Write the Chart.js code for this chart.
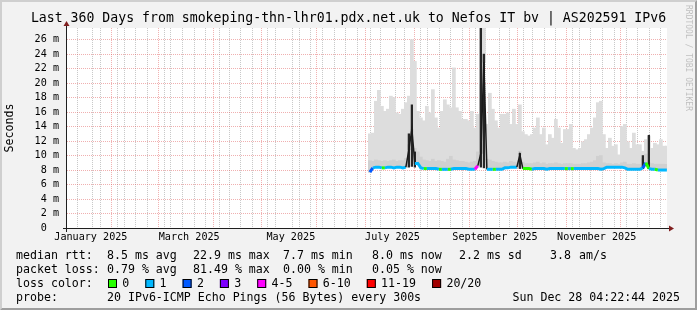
<!DOCTYPE html>
<html>
<head>
<meta charset="utf-8">
<script src="https://cdn.jsdelivr.net/npm/chart.js"></script>
<style>
  html, body { margin: 0; padding: 0; background: #f2f2f2; }
</style>
</head>
<body>
<canvas id="rttChart" width="697" height="310"></canvas>
<script>
// days since 1 Jan 2025; the export holds one sample every 1.8 days
var sampleStart = 182.9;
var sampleStep = 1.8;
var viewEnd = 361.18;   // Sun Dec 28 04:22:44
var viewDays = 360;
var yTop = 27.6;        // ms

// median rtt (ms)
var medianRtt = [
  7.7, 8.3, 8.4, 8.4, 8.3, 8.3, 8.4, 8.4, 8.3, 8.4,
  8.4, 8.3, 8.4, 10.8, 13.6, 8.9, 8.9, 8.3, 8.2, 8.2,
  8.2, 8.2, 8.2, 8.1, 8.1, 8.1, 8.1, 8.1, 8.2, 8.2,
  8.2, 8.2, 8.2, 8.1, 8.1, 8.1, 8.6, 10.3, 22.9, 8.1,
  8.1, 8.1, 8.1, 8.1, 8.1, 8.3, 8.3, 8.4, 8.4, 8.4,
  10.1, 8.2, 8.2, 8.2, 8.1, 8.2, 8.2, 8.2, 8.2, 8.1,
  8.2, 8.2, 8.2, 8.2, 8.2, 8.2, 8.2, 8.2, 8.2, 8.2,
  8.2, 8.2, 8.2, 8.2, 8.2, 8.2, 8.2, 8.1, 8.2, 8.4,
  8.4, 8.4, 8.4, 8.4, 8.4, 8.3, 8.1, 8.1, 8.1, 8.1,
  8.1, 8.3, 9.0, 8.2, 8.1, 8.1, 8.0, 8.0, 8.0, 8.0
];

// loss colour class per sample (index into lossColors)
var lossClass = [
  2, 2, 1, 1, 1, 0, 1, 1, 1, 1,
  1, 1, 1, 1, 1, 1, 1, 1, 1, 0,
  1, 1, 1, 1, 0, 1, 1, 0, 1, 1,
  1, 1, 1, 1, 1, 1, 4, 6, 2, 1,
  1, 1, 0, 1, 1, 1, 1, 1, 1, 1,
  1, 1, 0, 0, 0, 1, 1, 1, 1, 1,
  1, 1, 1, 1, 1, 1, 0, 1, 0, 1,
  1, 1, 1, 1, 1, 1, 1, 1, 1, 1,
  1, 1, 1, 1, 1, 1, 1, 1, 1, 1,
  1, 1, 2, 0, 1, 1, 0, 1, 1, 1
];

// highest ping of the 20 (ms)
var smokeMax = [
  13.0, 13.1, 17.5, 19.0, 16.8, 16.1, 16.4, 18.2, 18.0, 15.9,
  15.7, 16.4, 17.3, 18.2, 26.0, 23.0, 16.1, 15.2, 14.8, 16.8,
  15.9, 19.1, 15.2, 13.8, 16.1, 17.7, 17.0, 16.6, 22.1, 16.6,
  16.1, 15.0, 15.0, 14.8, 16.1, 13.8, 15.7, 30.0, 30.0, 14.3,
  18.6, 16.4, 14.8, 13.8, 15.7, 15.7, 15.9, 14.3, 16.4, 14.3,
  17.0, 13.3, 12.9, 12.7, 12.9, 13.8, 15.2, 12.9, 13.8, 11.5,
  12.9, 12.4, 15.0, 13.8, 11.7, 13.6, 13.6, 14.3, 11.0, 10.8,
  11.0, 11.9, 12.2, 12.9, 13.8, 15.2, 17.3, 17.5, 12.9, 11.0,
  12.4, 11.3, 11.5, 10.1, 14.0, 14.3, 11.9, 11.0, 13.1, 11.5,
  11.5, 10.6, 12.2, 12.7, 11.0, 11.7, 11.5, 12.2, 11.3, 11.3
];

// upper quartile of the pings (ms)
var smokeMid = [
  9.3, 9.2, 9.4, 9.3, 9.2, 9.3, 9.2, 9.3, 9.4, 9.2,
  9.3, 9.3, 9.6, 11.5, 12.5, 11.0, 10.5, 9.8, 9.4, 9.3,
  9.2, 9.5, 9.2, 9.3, 9.2, 9.1, 9.5, 9.9, 9.4, 9.3,
  9.2, 9.2, 9.1, 9.0, 9.1, 9.2, 10.5, 20.0, 24.0, 9.5,
  9.4, 9.2, 9.1, 9.0, 9.0, 9.1, 9.0, 9.2, 9.1, 9.0,
  10.6, 9.1, 8.9, 8.9, 8.9, 9.0, 9.1, 8.9, 9.0, 8.8,
  8.9, 8.9, 9.0, 8.9, 8.8, 8.9, 8.9, 8.9, 8.8, 8.8,
  8.8, 8.9, 8.9, 9.0, 9.1, 9.3, 9.9, 10.0, 9.0, 8.9,
  8.9, 8.8, 8.9, 8.8, 9.0, 9.1, 8.8, 8.8, 8.9, 8.8,
  8.8, 9.6, 10.2, 9.0, 8.9, 8.8, 8.8, 8.8, 8.8, 8.8
];

// dark inner smoke where the pings spread wide
var spikeIdx = [13, 14, 15, 37, 38, 50, 91, 93];
var spikeLow = [8.4, 8.5, 8.4, 8.4, 8.3, 8.2, 8.2, 8.2];
var spikeTop = [13.0, 17.0, 10.5, 30.0, 24.0, 10.3, 10.0, 12.8];

var lossColors = ['#26ff00', '#00b8ff', '#0059ff', '#7e00ff', '#ff00ff', '#ff5500', '#ff0000', '#a10000'];
var lossLabels = ['0', '1', '2', '3', '4-5', '6-10', '11-19', '20/20'];

var monthStarts = [0, 31, 59, 90, 120, 151, 181, 212, 243, 273, 304, 334, 365];
var monthLabels = ['January 2025', '', 'March 2025', '', 'May 2025', '', 'July 2025', '', 'September 2025', '', 'November 2025', ''];
var firstWeek = 4;

var rttSummary = [8.5, 22.9, 7.7, 8.0, 2.2, 3.8];
var lossSummary = [0.79, 81.49, 0.00, 0.05];
var probeText = '20 IPv6-ICMP Echo Pings (56 Bytes) every 300s';
var stampText = 'Sun Dec 28 04:22:44 2025';

var MONO = '"DejaVu Sans Mono", "Liberation Mono", monospace';
var xMin = viewEnd - viewDays;

var sampleDays = medianRtt.map(function (v, i) { return sampleStart + i * sampleStep; });

// x grid: weekly minor lines, monthly major lines, labels mid-month
var xTicks = [];
for (var w = firstWeek; w <= viewEnd; w += 7) xTicks.push({ value: w, kind: 0 });
for (var m = 0; m < 12; m++) {
  xTicks.push({ value: monthStarts[m], kind: 1 });
  if (monthLabels[m]) xTicks.push({ value: (monthStarts[m] + monthStarts[m + 1]) / 2, kind: 2, text: monthLabels[m] });
}
xTicks = xTicks.filter(function (t) { return t.value >= xMin && t.value <= viewEnd; });
xTicks.sort(function (a, b) { return a.value - b.value || a.kind - b.kind; });

var yTicks = [];
for (var k = 0; k <= Math.floor(yTop); k++) yTicks.push(k);

var GRID = 'rgba(143,143,143,0.5)';
var MGRID = 'rgba(222,79,79,0.45)';

var rrdFrame = {
  id: 'rrdFrame',
  beforeDraw: function (chart) {
    var c = chart.ctx, a = chart.chartArea, W = chart.width, H = chart.height;
    c.save();
    c.fillStyle = '#f2f2f2';
    c.fillRect(0, 0, W, H);
    c.fillStyle = '#cfcfcf';
    c.beginPath();
    c.moveTo(0, H); c.lineTo(2, H - 2); c.lineTo(2, 2); c.lineTo(W - 2, 2); c.lineTo(W, 0); c.lineTo(0, 0);
    c.closePath(); c.fill();
    c.fillStyle = '#9e9e9e';
    c.beginPath();
    c.moveTo(2, H - 2); c.lineTo(W - 2, H - 2); c.lineTo(W - 2, 2); c.lineTo(W, 0); c.lineTo(W, H); c.lineTo(0, H);
    c.closePath(); c.fill();
    c.fillStyle = '#ffffff';
    c.fillRect(a.left, a.top, a.right - a.left, a.bottom - a.top);
    c.restore();
  },
  afterDraw: function (chart) {
    var c = chart.ctx, a = chart.chartArea;
    c.save();
    // axes and arrows
    c.strokeStyle = '#1f1f1f';
    c.lineWidth = 1;
    c.beginPath();
    c.moveTo(a.left - 4, a.bottom + 0.5); c.lineTo(a.right + 4, a.bottom + 0.5);
    c.moveTo(a.left - 0.5, a.bottom + 4); c.lineTo(a.left - 0.5, a.top - 4);
    c.stroke();
    c.fillStyle = '#801f1f';
    c.beginPath();
    c.moveTo(a.right + 2, a.bottom - 2.5); c.lineTo(a.right + 2, a.bottom + 3.5); c.lineTo(a.right + 7, a.bottom + 0.5);
    c.closePath(); c.fill();
    c.beginPath();
    c.moveTo(a.left - 3.5, a.top - 2); c.lineTo(a.left + 2.5, a.top - 2); c.lineTo(a.left - 0.5, a.top - 7);
    c.closePath(); c.fill();

    // legend block
    c.fillStyle = '#000';
    c.font = '11.6px ' + MONO;
    c.textBaseline = 'middle';
    c.textAlign = 'left';
    var r1 = 255.5, r2 = 269.5, r3 = 283.5, r4 = 297.5;
    c.fillText('median rtt:', 16, r1);
    c.fillText(rttSummary[0].toFixed(1) + ' ms avg', 107, r1);
    c.fillText(rttSummary[1].toFixed(1) + ' ms max', 193, r1);
    c.fillText(rttSummary[2].toFixed(1) + ' ms min', 283, r1);
    c.fillText(rttSummary[3].toFixed(1) + ' ms now', 372, r1);
    c.fillText(rttSummary[4].toFixed(1) + ' ms sd', 459, r1);
    c.fillText(rttSummary[5].toFixed(1), 550, r1);
    c.fillText('am/s', 579, r1);
    c.fillText('packet loss:', 16, r2);
    c.fillText(lossSummary[0].toFixed(2) + ' % avg', 107, r2);
    c.fillText(lossSummary[1].toFixed(2) + ' % max', 193, r2);
    c.fillText(lossSummary[2].toFixed(2) + ' % min', 283, r2);
    c.fillText(lossSummary[3].toFixed(2) + ' % now', 372, r2);
    c.fillText('loss color:', 16, r3);
    var bx = 108;
    for (var i = 0; i < lossColors.length; i++) {
      c.fillStyle = lossColors[i];
      c.fillRect(bx, Math.round(r3 - 4.5), 9, 9);
      c.strokeStyle = '#000';
      c.strokeRect(bx + 0.5, Math.round(r3 - 4.5) + 0.5, 8, 8);
      c.fillStyle = '#000';
      c.fillText(lossLabels[i], bx + 14.3, r3);
      bx += 30.3 + 7 * lossLabels[i].length;
    }
    c.fillText('probe:', 16, r4);
    c.fillText(probeText, 107, r4);
    c.textAlign = 'right';
    c.fillText(stampText, 680, r4);

    // watermark
    c.translate(688, 5);
    c.rotate(Math.PI / 2);
    c.textAlign = 'left';
    c.fillStyle = 'rgba(0,0,0,0.22)';
    c.font = '8px ' + MONO;
    c.fillText('RRDTOOL / TOBI OETIKER', 0, 0);
    c.restore();
  }
};

function isJump(s) {
  return Math.abs(s.p1.parsed.y - s.p0.parsed.y) > 1.5;
}

var ctx = document.getElementById('rttChart');

var chart = new Chart(ctx, {
  type: 'line',
  data: {
    datasets: [
      {
        label: 'median rtt',
        data: medianRtt.map(function (v, i) { return { x: sampleDays[i], y: v }; }),
        order: 1,
        borderWidth: 3,
        borderColor: lossColors[1],
        borderCapStyle: 'butt',
        segment: {
          borderColor: function (s) { return isJump(s) ? '#1a1a1a' : lossColors[lossClass[s.p1DataIndex]]; },
          borderWidth: function (s) { return isJump(s) ? 1.5 : 3; }
        },
        pointRadius: 0,
        tension: 0,
        fill: false
      },
      {
        type: 'bar',
        label: 'inner smoke',
        data: spikeIdx.map(function (k, j) { return { x: sampleDays[k], y: [spikeLow[j], spikeTop[j]] }; }),
        order: 2,
        stack: 'smoke',
        backgroundColor: '#262626',
        barThickness: 1.6
      },
      {
        type: 'bar',
        label: 'upper quartile',
        data: smokeMid.map(function (v, i) { return { x: sampleDays[i], y: [medianRtt[i], v] }; }),
        order: 3,
        stack: 'smoke',
        backgroundColor: '#d0d0d0',
        barThickness: 3.05
      },
      {
        type: 'bar',
        label: 'max',
        data: smokeMax.map(function (v, i) { return { x: sampleDays[i], y: [medianRtt[i], v] }; }),
        order: 4,
        stack: 'smoke',
        backgroundColor: '#dddddd',
        barThickness: 3.05
      }
    ]
  },
  options: {
    responsive: false,
    animation: false,
    devicePixelRatio: 1,
    events: [],
    layout: { padding: { left: 0, right: 0, top: 0, bottom: 62 } },
    plugins: {
      legend: { display: false },
      tooltip: { enabled: false },
      title: {
        display: true,
        text: 'Last 360 Days from smokeping-thn-lhr01.pdx.net.uk to Nefos IT bv | AS202591 IPv6',
        color: '#000',
        font: { family: MONO, size: 13.2, weight: 'normal', lineHeight: 1.2 },
        padding: { top: 11, bottom: 1.2 }
      }
    },
    scales: {
      x: {
        type: 'linear',
        min: xMin,
        max: viewEnd,
        offset: false,
        stacked: true,
        z: 1,
        afterBuildTicks: function (s) { s.ticks = xTicks.map(function (t) { return { value: t.value }; }); },
        afterFit: function (s) { s.height = 20; },
        grid: {
          drawTicks: false,
          lineWidth: 1,
          color: function (c) {
            var t = xTicks[c.index];
            if (!t || t.kind === 2) return 'rgba(0,0,0,0)';
            return t.kind === 1 ? MGRID : GRID;
          }
        },
        border: { display: false, dash: [1, 1] },
        ticks: {
          autoSkip: false,
          maxRotation: 0,
          minRotation: 0,
          padding: 3,
          color: '#000',
          font: { family: MONO, size: 10.15 },
          callback: function (v, i) { return xTicks[i] && xTicks[i].text ? xTicks[i].text : ''; }
        }
      },
      y: {
        type: 'linear',
        min: 0,
        max: yTop,
        stacked: false,
        z: 1,
        afterBuildTicks: function (s) { s.ticks = yTicks.map(function (v) { return { value: v }; }); },
        afterFit: function (s) { s.width = 67; },
        grid: {
          drawTicks: false,
          lineWidth: 1,
          color: function (c) {
            if (!c.tick || c.tick.value === 0) return 'rgba(0,0,0,0)';
            return c.tick.value % 2 === 0 ? MGRID : GRID;
          }
        },
        border: { display: false, dash: [1, 1] },
        title: {
          display: true,
          text: 'Seconds',
          color: '#000',
          font: { family: MONO, size: 11.6, lineHeight: 1.2 },
          padding: { top: 3, bottom: 0 }
        },
        ticks: {
          padding: 8,
          color: '#000',
          font: { family: MONO, size: 10.15 },
          callback: function (v) {
            if (v % 2 !== 0) return '';
            return v === 0 ? '0  ' : v + ' m';
          }
        }
      },
      yRight: {
        type: 'linear',
        position: 'right',
        display: true,
        grid: { display: false },
        border: { display: false },
        ticks: { display: false },
        afterFit: function (s) { s.width = 30; }
      }
    }
  },
  plugins: [rrdFrame]
});
</script>
</body>
</html>
